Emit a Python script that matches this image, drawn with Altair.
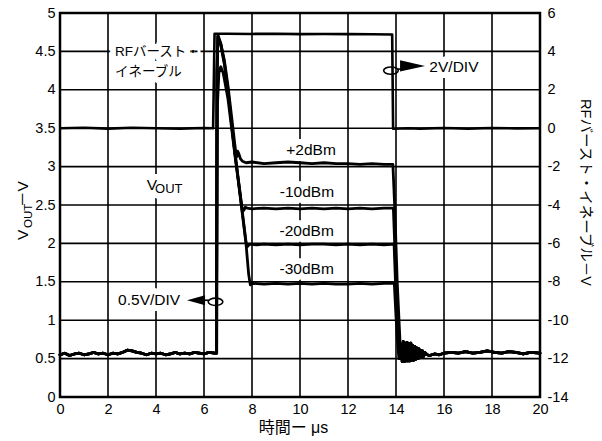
import altair as alt
import pandas as pd

FONT = "Liberation Sans, Noto Sans CJK JP, sans-serif"

# ---------------- data ----------------
# shared noisy baseline before the burst (time µs, VOUT V)
pre_t = [0, 0.2, 0.4, 0.6, 0.8, 1.0, 1.2, 1.4, 1.6, 1.8, 2.0, 2.2, 2.4, 2.6, 2.8, 3.0,
         3.2, 3.4, 3.6, 3.8, 4.0, 4.2, 4.4, 4.6, 4.8, 5.0, 5.2, 5.4, 5.6, 5.8, 6.0, 6.2, 6.45]
pre_v = [0.55, 0.57, 0.54, 0.56, 0.57, 0.55, 0.56, 0.58, 0.56, 0.57, 0.55, 0.57, 0.56, 0.58, 0.61, 0.60,
         0.58, 0.57, 0.55, 0.57, 0.56, 0.57, 0.55, 0.56, 0.58, 0.56, 0.57, 0.56, 0.58, 0.57, 0.56, 0.58, 0.57]

# burst part of each trace
p2_t = [6.52, 6.54, 6.58, 6.7, 6.85, 7.0, 7.15, 7.28, 7.35, 7.4, 7.45, 7.52, 7.6, 7.75, 8.0, 8.5, 9.0,
        9.5, 10.0, 10.5, 11.0, 11.5, 12.0, 12.5, 13.0, 13.5, 13.87, 13.95, 14.05, 14.2]
p2_v = [0.57, 4.2, 4.71, 4.6, 4.38, 4.05, 3.65, 3.3, 3.12, 3.2, 3.17, 3.1, 3.07, 3.05, 3.06, 3.04, 3.05,
        3.06, 3.05, 3.04, 3.05, 3.04, 3.04, 3.03, 3.04, 3.03, 3.03, 2.45, 1.5, 0.5]

m10_t = [6.52, 6.54, 6.58, 6.7, 6.85, 7.0, 7.15, 7.3, 7.45, 7.58, 7.66, 7.72, 7.8, 8.0, 8.5, 9.0, 9.5,
         10.0, 10.5, 11.0, 11.5, 12.0, 12.5, 13.0, 13.5, 13.89, 13.97, 14.07, 14.17]
m10_v = [0.57, 4.2, 4.7, 4.6, 4.35, 4.0, 3.55, 3.15, 2.78, 2.47, 2.43, 2.47, 2.46, 2.45, 2.46, 2.45, 2.46,
         2.45, 2.46, 2.45, 2.46, 2.45, 2.46, 2.45, 2.46, 2.46, 1.8, 1.1, 0.5]

m20_t = [6.52, 6.54, 6.58, 6.7, 6.85, 7.0, 7.15, 7.3, 7.45, 7.6, 7.75, 7.82, 7.9, 8.2, 8.5, 9.0, 9.5,
         10.0, 10.5, 11.0, 11.5, 12.0, 12.5, 13.0, 13.5, 13.92, 13.99, 14.07, 14.15]
m20_v = [0.57, 4.2, 4.69, 4.58, 4.33, 3.98, 3.55, 3.15, 2.78, 2.4, 2.02, 1.96, 1.99, 1.98, 1.99, 1.98, 1.99,
         1.98, 1.99, 1.99, 1.98, 1.99, 1.98, 1.99, 1.98, 1.99, 1.4, 0.9, 0.5]

m30_t = [6.53, 6.56, 6.62, 6.7, 6.8, 7.0, 7.15, 7.3, 7.45, 7.6, 7.75, 7.86, 7.93, 8.0, 8.5, 9.0, 9.5,
         10.0, 10.5, 11.0, 11.5, 12.0, 12.5, 13.0, 13.5, 13.93, 14.0, 14.06, 14.12]
m30_v = [0.57, 3.8, 4.22, 4.3, 4.22, 3.88, 3.5, 3.12, 2.76, 2.38, 2.0, 1.6, 1.46, 1.48, 1.47, 1.48, 1.47,
         1.48, 1.47, 1.48, 1.47, 1.47, 1.48, 1.47, 1.48, 1.48, 1.05, 0.75, 0.5]

# shared ringing / settling tail after the burst
tail_t = [14.22, 14.26, 14.30, 14.34, 14.38, 14.42, 14.46, 14.50, 14.54, 14.58, 14.62, 14.66, 14.70,
          14.74, 14.78, 14.82, 14.86, 14.90, 14.94, 14.98, 15.02, 15.06, 15.10, 15.15, 15.2, 15.3,
          15.4, 15.6, 15.8, 16.0, 16.3, 16.6, 16.9, 17.2, 17.5, 17.8, 18.1, 18.4, 18.7, 19.0, 19.3,
          19.6, 20.0]
tail_v = [0.68, 0.46, 0.72, 0.46, 0.70, 0.47, 0.71, 0.47, 0.69, 0.47, 0.70, 0.48, 0.67,
          0.48, 0.66, 0.49, 0.64, 0.50, 0.63, 0.51, 0.61, 0.52, 0.60, 0.53, 0.58, 0.55,
          0.54, 0.56, 0.55, 0.57, 0.58, 0.57, 0.59, 0.57, 0.58, 0.60, 0.58, 0.57, 0.59, 0.58, 0.56,
          0.58, 0.57]

series_names = ["+2dBm", "-10dBm", "-20dBm", "-30dBm"]
series_t = [p2_t, m10_t, m20_t, m30_t]
series_v = [p2_v, m10_v, m20_v, m30_v]

# RF burst enable signal (right axis, V)
en_t = [0, 1, 2, 3, 4, 5, 6, 6.38, 6.44, 7, 8, 9, 10, 11, 12, 13, 13.84, 13.88,
        14.5, 15, 16, 17, 18, 19, 20]
en_v = [0, 0.02, -0.02, 0.02, 0, -0.02, 0.01, 0, 4.92, 4.92, 4.91, 4.92, 4.9, 4.91, 4.9, 4.89, 4.88, -0.03,
        0, -0.02, 0.01, -0.02, 0.01, -0.01, 0]

# annotations
lab_text = ["RFバースト・", "イネーブル", "+2dBm", "-10dBm", "-20dBm", "-30dBm", "0.5V/DIV", "2V/DIV"]
lab_t = [2.29, 2.29, 10.46, 10.29, 10.28, 10.28, 2.42, 15.39]
lab_v = [4.49, 4.23, 3.22, 2.665, 2.165, 1.667, 1.263, 4.297]
lab_align = ["left", "left", "center", "center", "center", "center", "left", "left"]
lab_size = [13.5, 13.5, 15.5, 15.5, 15.5, 15.5, 15.5, 15.5]

vout_text = ["V", "OUT"]
vout_t = [3.61, 3.96]
vout_v = [2.695, 2.656]
vout_size = [15.5, 13]

TRI_L = "M -1 0 L 1 -0.55 L 1 0.55 Z"
TRI_R = "M 1 0 L -1 -0.45 L -1 0.45 Z"
ELL = "M -1 0 A 1 0.5 0 1 0 1 0 A 1 0.5 0 1 0 -1 0 Z"
arrow_t = [5.67, 14.69]
arrow_v = [1.26, 4.31]
arrow_shape = [TRI_L, TRI_R]
arrow_size = [324, 625]
ell_t = [6.48, 13.79]
ell_v = [1.24, 4.25]
conn_t1 = [5.9, 14.05]
conn_t2 = [6.2, 14.3]
conn_v = [1.26, 4.27]

x_ticks = list(range(0, 21, 2))
yl_ticks = [0, 0.5, 1, 1.5, 2, 2.5, 3, 3.5, 4, 4.5, 5]
yr_ticks = list(range(-14, 7, 2))

# ---------------- tables ----------------
rows = []
for name, mt, mv in zip(series_names, series_t, series_v):
    ts = pre_t + mt + tail_t
    vs = pre_v + mv + tail_v
    for i, (t, v) in enumerate(zip(ts, vs)):
        rows.append({"series": name, "i": i, "t": t, "v": v})
df = pd.DataFrame(rows)
en_df = pd.DataFrame({"t": en_t, "e": en_v, "i": range(len(en_t))})
lab_df = pd.DataFrame({"label": lab_text, "t": lab_t, "v": lab_v, "al": lab_align, "fs": lab_size})
vout_df = pd.DataFrame({"label": vout_text, "t": vout_t, "v": vout_v, "fs": vout_size})
arr_df = pd.DataFrame({"t": arrow_t, "v": arrow_v, "shape": arrow_shape, "sz": arrow_size})
ell_df = pd.DataFrame({"t": ell_t, "v": ell_v})
conn_df = pd.DataFrame({"t1": conn_t1, "t2": conn_t2, "v": conn_v})
gx_df = pd.DataFrame({"t": x_ticks})
gy_df = pd.DataFrame({"v": yl_ticks})
one = pd.DataFrame({"a": [0]})

# ---------------- scales / axes ----------------
xs = alt.Scale(domain=[0, 20], nice=False, zero=False)
yls = alt.Scale(domain=[0, 5], nice=False, zero=False)
yrs = alt.Scale(domain=[-14, 6], nice=False, zero=False)

x_axis = alt.Axis(values=x_ticks, grid=False,
                  ticks=False, domain=False, labelFont=FONT, labelFontSize=14.5, labelColor="black",
                  labelPadding=5, labelFlush=False, labelOverlap=False,
                  title="時間ー μs", titleFont=FONT, titleFontSize=16, titleFontWeight="normal",
                  titleColor="black", titlePadding=4, titleX=233)
yl_axis = alt.Axis(values=yl_ticks, grid=False,
                   ticks=False, domain=False, labelFont=FONT, labelFontSize=14.5, labelColor="black",
                   labelPadding=5, labelFlush=False, labelOverlap=False,
                   labelExpr="datum.value + ''", title=None)
yr_axis = alt.Axis(values=yr_ticks, orient="right", grid=False, ticks=False, domain=False,
                   labelFont=FONT, labelFontSize=14.5, labelColor="black", labelPadding=7,
                   labelFlush=False, labelOverlap=False, labelAlign="left",
                   labelExpr="datum.value + ''", title=None)

X = alt.X("t:Q", scale=xs, axis=x_axis)
Y = alt.Y("v:Q", scale=yls, axis=yl_axis)

# grid drawn as rules
grid_x = alt.Chart(gx_df).mark_rule(color="black", strokeWidth=1.6).encode(x=X)
grid_y = alt.Chart(gy_df).mark_rule(color="black", strokeWidth=1.6).encode(y=Y)

lines = alt.Chart(df).mark_line(color="black", strokeWidth=2.8, strokeJoin="round", strokeCap="round").encode(
    x=X, y=Y, detail="series:N", order="i:Q",
)


def labels(align, halo):
    kw = dict(align=align, baseline="middle", font=FONT)
    if halo:
        kw.update(fill="white", stroke="white", strokeWidth=12, strokeJoin="round")
    else:
        kw.update(color="black")
    return alt.Chart(lab_df).transform_filter(alt.datum.al == align).mark_text(**kw).encode(
        x=X, y=Y, text="label:N", size=alt.Size("fs:Q", scale=None))


def vout_lab(halo):
    kw = dict(align="left", baseline="alphabetic", font=FONT)
    if halo:
        kw.update(fill="white", stroke="white", strokeWidth=12, strokeJoin="round")
    else:
        kw.update(color="black")
    return alt.Chart(vout_df).mark_text(**kw).encode(
        x=X, y=Y, text="label:N", size=alt.Size("fs:Q", scale=None))


arrows = alt.Chart(arr_df).mark_point(filled=True, color="black", opacity=1).encode(
    x=X, y=Y, shape=alt.Shape("shape:N", scale=None), size=alt.Size("sz:Q", scale=None))
ellipses = alt.Chart(ell_df).mark_point(shape=ELL, size=215, filled=False, color="black",
                                        strokeWidth=1.6, opacity=1).encode(x=X, y=Y)
conns = alt.Chart(conn_df).mark_rule(color="black", strokeWidth=1.6).encode(
    x=alt.X("t1:Q", scale=xs, axis=x_axis), x2="t2:Q", y=Y)


def ttl(text, px, py, fs, angle, align="left", baseline="alphabetic"):
    return alt.Chart(one).mark_text(text=text, angle=angle, align=align, baseline=baseline,
                                    fontSize=fs, font=FONT, color="black").encode(
        x=alt.value(px), y=alt.value(py))


left = alt.layer(
    grid_x, grid_y,
    labels("left", True), labels("center", True), vout_lab(True),
    lines,
    labels("left", False), labels("center", False), vout_lab(False),
    conns, arrows, ellipses,
    ttl("V", -32, 227, 15.5, 270),
    ttl("OUT", -28, 215, 11.5, 270),
    ttl("－V", -32, 194, 15.5, 270),
    ttl("RFバースト・イネーブル－V", 525, 179.5, 14.5, 90, "center", "middle"),
)

enable = alt.Chart(en_df).mark_line(color="black", strokeWidth=2.6, strokeJoin="round").encode(
    x=X,
    y=alt.Y("e:Q", scale=yrs, axis=yr_axis),
    order="i:Q",
)

chart = alt.layer(left, enable).resolve_scale(y="independent").properties(
    width=480, height=384,
    autosize=alt.AutoSizeParams(type="none"),
    padding={"left": 60, "top": 13, "right": 62, "bottom": 44},
    background="white",
).configure_view(stroke="black", strokeWidth=2.5)

chart.save("out.html", embed_options={"renderer": "svg", "actions": False})
